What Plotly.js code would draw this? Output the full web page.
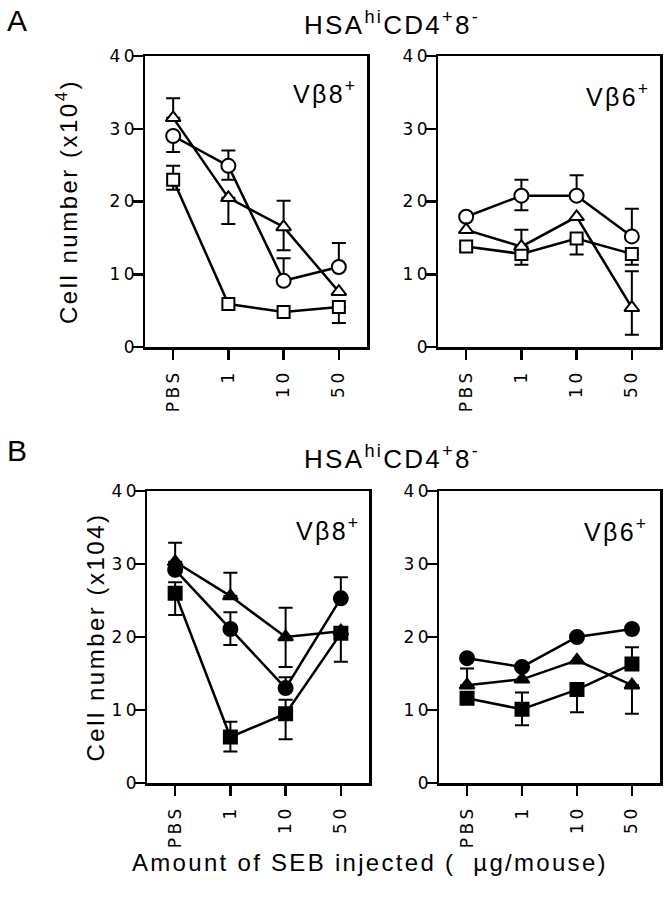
<!DOCTYPE html>
<html>
<head>
<meta charset="utf-8">
<script src="https://cdn.plot.ly/plotly-3.0.1.min.js"></script>
<style>
  html, body { margin: 0; padding: 0; background: #fff; }
  g[class$="tick"] > text { letter-spacing: 3.5px; }
  text[class$="title"] { letter-spacing: 2.5px; }
  .annotation-text { letter-spacing: 2.3px; }
</style>
</head>
<body>
<div id="chart" style="width:667px;height:900px;"></div>
<script>
// ---- data ----
var doses = ["PBS", "1", "10", "50"];

// Panel A, Vβ8+ (open symbols)
var aV8Triangle = [31.5, 20.5, 16.5, 7.6];
var aV8TriangleUp = [2.7, 0, 3.6, 0];
var aV8TriangleDown = [0, 3.6, 3.2, 0];
var aV8Circle = [29.0, 24.9, 9.1, 11.0];
var aV8CircleUp = [0, 2.1, 3.1, 3.3];
var aV8CircleDown = [2.2, 1.9, 0, 0];
var aV8Square = [23.0, 5.9, 4.8, 5.5];
var aV8SquareUp = [1.9, 0, 0, 0];
var aV8SquareDown = [1.4, 0, 0, 2.2];

// Panel A, Vβ6+ (open symbols)
var aV6Circle = [17.9, 20.8, 20.8, 15.2];
var aV6CircleUp = [0, 2.2, 2.8, 3.8];
var aV6CircleDown = [0, 2.0, 0, 0];
var aV6Triangle = [16.1, 13.8, 17.9, 5.4];
var aV6TriangleUp = [0, 2.3, 0, 5.0];
var aV6TriangleDown = [0, 0, 0, 3.7];
var aV6Square = [13.8, 12.8, 14.9, 12.8];
var aV6SquareUp = [0, 0, 0, 0];
var aV6SquareDown = [0, 1.5, 2.2, 1.5];

// Panel B, Vβ8+ (filled symbols)
var bV8Triangle = [30.3, 25.6, 20.0, 20.8];
var bV8TriangleUp = [2.6, 3.2, 4.0, 0];
var bV8TriangleDown = [0, 0, 4.1, 0];
var bV8Circle = [29.2, 21.1, 13.0, 25.3];
var bV8CircleUp = [0, 2.3, 1.5, 2.9];
var bV8CircleDown = [0, 2.2, 0, 0];
var bV8Square = [26.0, 6.3, 9.5, 20.5];
var bV8SquareUp = [1.5, 2.1, 1.9, 0];
var bV8SquareDown = [3.0, 2.0, 3.5, 3.9];

// Panel B, Vβ6+ (filled symbols)
var bV6Circle = [17.1, 15.9, 20.0, 21.1];
var bV6CircleUp = [0, 0, 0, 0];
var bV6CircleDown = [0, 0, 0, 0];
var bV6Triangle = [13.4, 14.2, 16.8, 13.4];
var bV6TriangleUp = [2.3, 0, 0, 0];
var bV6TriangleDown = [0, 0, 0, 3.9];
var bV6Square = [11.6, 10.1, 12.8, 16.3];
var bV6SquareUp = [0, 2.3, 0, 2.3];
var bV6SquareDown = [0, 2.2, 3.1, 0];

// ---- helpers ----
function errs(up, down) {
  var u = [], d = [];
  for (var i = 0; i < up.length; i++) {
    if (!up[i] && !down[i]) { u.push(NaN); d.push(NaN); }
    else { u.push(up[i]); d.push(down[i]); }
  }
  return {type: 'data', symmetric: false, array: u, arrayminus: d,
          color: 'black', thickness: 2, width: 7};
}

function trace(y, up, down, symbol, filled, size, ax) {
  return {
    x: doses, y: y, type: 'scatter', mode: 'lines+markers',
    xaxis: 'x' + ax, yaxis: 'y' + ax,
    line: {color: 'black', width: 2.5},
    marker: {symbol: symbol, size: size,
             color: filled ? 'black' : 'white',
             line: {color: 'black', width: 2}},
    error_y: errs(up, down),
    hoverinfo: 'skip', cliponaxis: false
  };
}

var data = [
  trace(aV8Square, aV8SquareUp, aV8SquareDown, 'square', false, 12, ''),
  trace(aV8Circle, aV8CircleUp, aV8CircleDown, 'circle', false, 14, ''),
  trace(aV8Triangle, aV8TriangleUp, aV8TriangleDown, 'triangle-up', false, 13, ''),

  trace(aV6Square, aV6SquareUp, aV6SquareDown, 'square', false, 12, '2'),
  trace(aV6Circle, aV6CircleUp, aV6CircleDown, 'circle', false, 14, '2'),
  trace(aV6Triangle, aV6TriangleUp, aV6TriangleDown, 'triangle-up', false, 13, '2'),

  trace(bV8Square, bV8SquareUp, bV8SquareDown, 'square', true, 13, '3'),
  trace(bV8Circle, bV8CircleUp, bV8CircleDown, 'circle', true, 14, '3'),
  trace(bV8Triangle, bV8TriangleUp, bV8TriangleDown, 'triangle-up', true, 13, '3'),

  trace(bV6Square, bV6SquareUp, bV6SquareDown, 'square', true, 13, '4'),
  trace(bV6Circle, bV6CircleUp, bV6CircleDown, 'circle', true, 14, '4'),
  trace(bV6Triangle, bV6TriangleUp, bV6TriangleDown, 'triangle-up', true, 13, '4')
];

var W = 667, H = 900;
function px(v) { return v / W; }
function py(v) { return 1 - v / H; }

var tickFont = {family: 'DejaVu Sans, Liberation Sans, sans-serif', size: 17, color: 'black'};

function xax(x0, x1, anchor) {
  return {
    domain: [px(x0), px(x1)], anchor: anchor, type: 'category',
    categoryorder: 'array', categoryarray: doses, range: [-0.51, 3.51],
    showline: true, mirror: true, linewidth: 2.5, linecolor: 'black',
    ticks: 'outside', ticklen: 10, tickwidth: 2.5, tickcolor: 'black',
    tickangle: -90, showgrid: false, zeroline: false,
    tickfont: tickFont, ticklabelstandoff: 3, fixedrange: true
  };
}
function yax(y0, y1, anchor, title, standoff) {
  var a = {
    domain: [py(y1), py(y0)], anchor: anchor, range: [0, 40],
    tick0: 0, dtick: 10,
    showline: true, mirror: true, linewidth: 2.5, linecolor: 'black',
    ticks: 'outside', ticklen: 10, tickwidth: 2.5, tickcolor: 'black',
    showgrid: false, zeroline: false,
    tickfont: tickFont, ticklabelstandoff: -9, fixedrange: true
  };
  if (title) a.title = {text: title, standoff: standoff, font: {size: 24, color: 'black'}};
  return a;
}

var titleText = 'HSA<sup>hi</sup>CD4<sup>+</sup>8<sup>-</sup>';

function ann(text, x, y, size, xanchor) {
  return {text: text, xref: 'paper', yref: 'paper', x: x, y: y,
          xanchor: xanchor || 'center', yanchor: 'middle', showarrow: false,
          font: {size: size, color: 'black'}};
}

var layout = {
  width: W, height: H,
  margin: {l: 0, r: 0, t: 0, b: 0},
  paper_bgcolor: 'white', plot_bgcolor: 'white',
  showlegend: false,
  font: {family: 'Liberation Sans, Arial, Helvetica, sans-serif', color: 'black'},
  xaxis: xax(145, 367, 'y'),
  yaxis: yax(56, 347, 'x', 'Cell number (x10<sup>4</sup>)', 25),
  xaxis2: xax(438, 660, 'y2'),
  yaxis2: yax(56, 347, 'x2', null),
  xaxis3: xax(147, 369, 'y3'),
  yaxis3: yax(491, 783, 'x3', 'Cell number (x104)', 0),
  xaxis4: xax(439, 660, 'y4'),
  yaxis4: yax(491, 783, 'x4', null),
  annotations: [
    ann('A', px(18), py(21), 30),
    ann('B', px(18), py(451), 30),
    ann(titleText, px(392), py(23), 26),
    ann(titleText, px(392), py(458), 26),
    ann('Vβ8<sup>+</sup>', px(359), py(92), 25, 'right'),
    ann('Vβ6<sup>+</sup>', px(652), py(95), 25, 'right'),
    ann('Vβ8<sup>+</sup>', px(362), py(529), 25, 'right'),
    ann('Vβ6<sup>+</sup>', px(650), py(530), 25, 'right'),
    ann('Amount of SEB injected (  µg/mouse)', px(370), py(862), 24)
  ]
};

Plotly.newPlot('chart', data, layout, {staticPlot: true, displayModeBar: false});
</script>
</body>
</html>
